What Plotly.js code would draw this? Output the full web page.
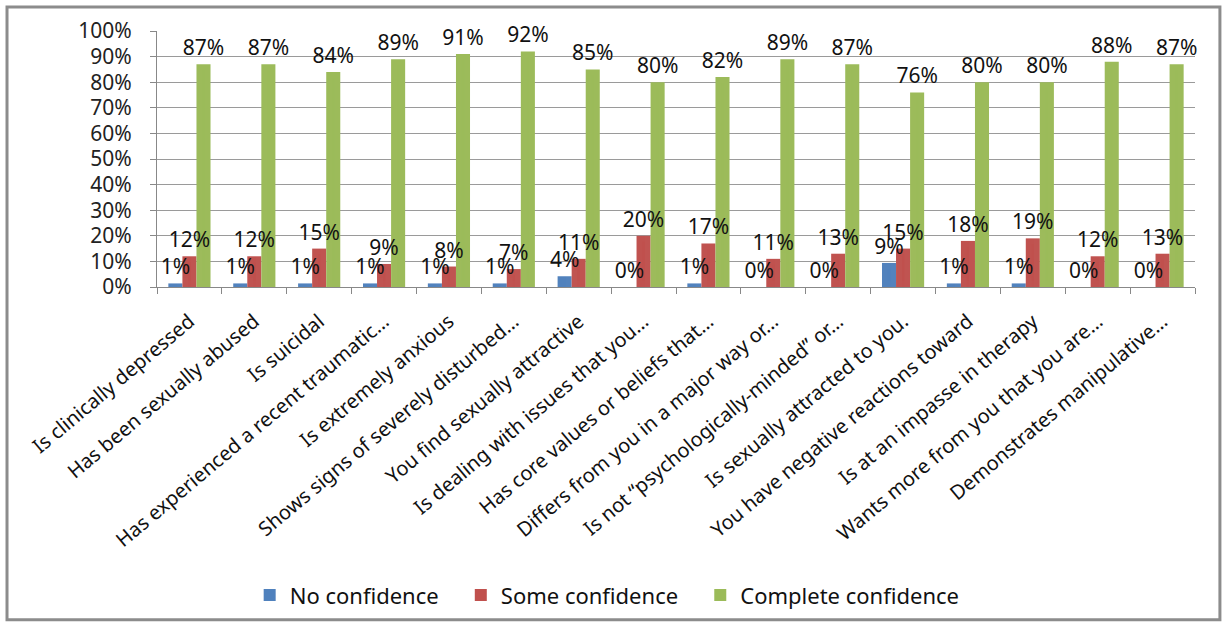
<!DOCTYPE html>
<html>
<head>
<meta charset="utf-8">
<script src="https://cdn.plot.ly/plotly-3.0.1.min.js"></script>
<style>html,body{margin:0;padding:0;background:#fff;}#chart{width:1224px;height:624px;}</style>
</head>
<body>
<div id="chart"></div>
<script>
const categories = [
  "Is clinically depressed",
  "Has been sexually abused",
  "Is suicidal",
  "Has experienced a recent traumatic…",
  "Is extremely anxious",
  "Shows signs of severely disturbed…",
  "You find sexually attractive",
  "Is dealing with issues that you…",
  "Has core values or beliefs that…",
  "Differs from you in a major way or…",
  "Is not “psychologically-minded” or…",
  "Is sexually attracted to you.",
  "You have negative reactions toward",
  "Is at an impasse in therapy",
  "Wants more from you that you are…",
  "Demonstrates manipulative…"
];
const noConfidence = [1.4, 1.4, 1.4, 1.4, 1.4, 1.4, 4.2, 0, 1.4, 0, 0, 9.4, 1.4, 1.4, 0, 0];
const someConfidence = [12, 12, 15, 9, 8, 7, 11, 20, 17, 11, 13, 15, 18, 19, 12, 13];
const completeConfidence = [87, 87, 84, 89, 91, 92, 85, 80, 82, 89, 87, 76, 80, 80, 88, 87];
const seriesNames = ["No confidence", "Some confidence", "Complete confidence"];
const seriesColors = ["#4F81BD", "#C0504D", "#9BBB59"];
const yTickVals = [0,10,20,30,40,50,60,70,80,90,100];
const yTickText = yTickVals.map(v => v + "%");

const FONT = "Noto Sans, Open Sans, sans-serif";
const series = [noConfidence, someConfidence, completeConfidence];
const barTraces = series.map((vals, i) => ({
  type: "bar",
  name: seriesNames[i] + "\u00a0\u00a0\u00a0",
  x: categories,
  y: vals,
  offsetgroup: String(i),
  marker: {color: seriesColors[i], line: {width: 0}},
  hoverinfo: "skip"
}));
// label layers drawn after all bars so value labels sit on top
const labelTraces = series.map((vals, i) => ({
  type: "bar",
  name: seriesNames[i],
  showlegend: false,
  x: categories,
  y: vals,
  offsetgroup: String(i),
  marker: {color: "rgba(255,255,255,0)", line: {width: 12, color: "rgba(255,255,255,0.01)"}},
  text: vals.map(v => Math.round(v) + "%"),
  textposition: "outside",
  textfont: {family: FONT, size: 21, color: "#111"},
  cliponaxis: false,
  constraintext: "none",
  hoverinfo: "skip"
}));

const layout = {
  width: 1224, height: 624,
  margin: {l: 157, r: 29, t: 31, b: 337},
  paper_bgcolor: "#fff", plot_bgcolor: "#fff",
  barmode: "group", bargap: 0.35, bargroupgap: 0,
  showlegend: true,
  legend: {orientation: "h", xref: "container", yref: "container", x: 0.503, xanchor: "center", y: 0.046, yanchor: "middle",
           font: {family: FONT, size: 22, color: "#111"}, itemwidth: 30, traceorder: "normal"},
  xaxis: {
    type: "category", tickangle: -40, ticks: "outside", tickson: "boundaries", ticklen: 6,
    tickcolor: "#888", showline: true, linecolor: "#888", linewidth: 1, ticklabelstandoff: 14,
    tickfont: {family: FONT, size: 20, color: "#111"}, automargin: false
  },
  yaxis: {
    range: [0, 100], tickvals: yTickVals, ticktext: yTickText, ticks: "outside", ticklen: 6, tickcolor: "#888",
    showgrid: true, gridcolor: "#9a9a9a", gridwidth: 1, showline: true, linecolor: "#888", linewidth: 1,
    zeroline: false, tickfont: {family: FONT, size: 21, color: "#222"}, automargin: false, ticklabelstandoff: 14
  },
  shapes: [{type: "rect", xref: "paper", yref: "paper", x0: -0.1445, x1: 1.024, y0: -1.30, y1: 1.094,
            line: {color: "#8c8c8c", width: 3}, fillcolor: "rgba(0,0,0,0)", layer: "below"}],
  annotations: [{xref: "paper", yref: "paper", x: -0.153, y: 1.12, xanchor: "left", yanchor: "bottom",
                 text: "<u>Figure 1</u>", showarrow: false, font: {family: FONT, size: 26, color: "#000"}}]
};

Plotly.newPlot("chart", barTraces.concat(labelTraces), layout, {displayModeBar: false, staticPlot: true});
</script>
</body>
</html>
